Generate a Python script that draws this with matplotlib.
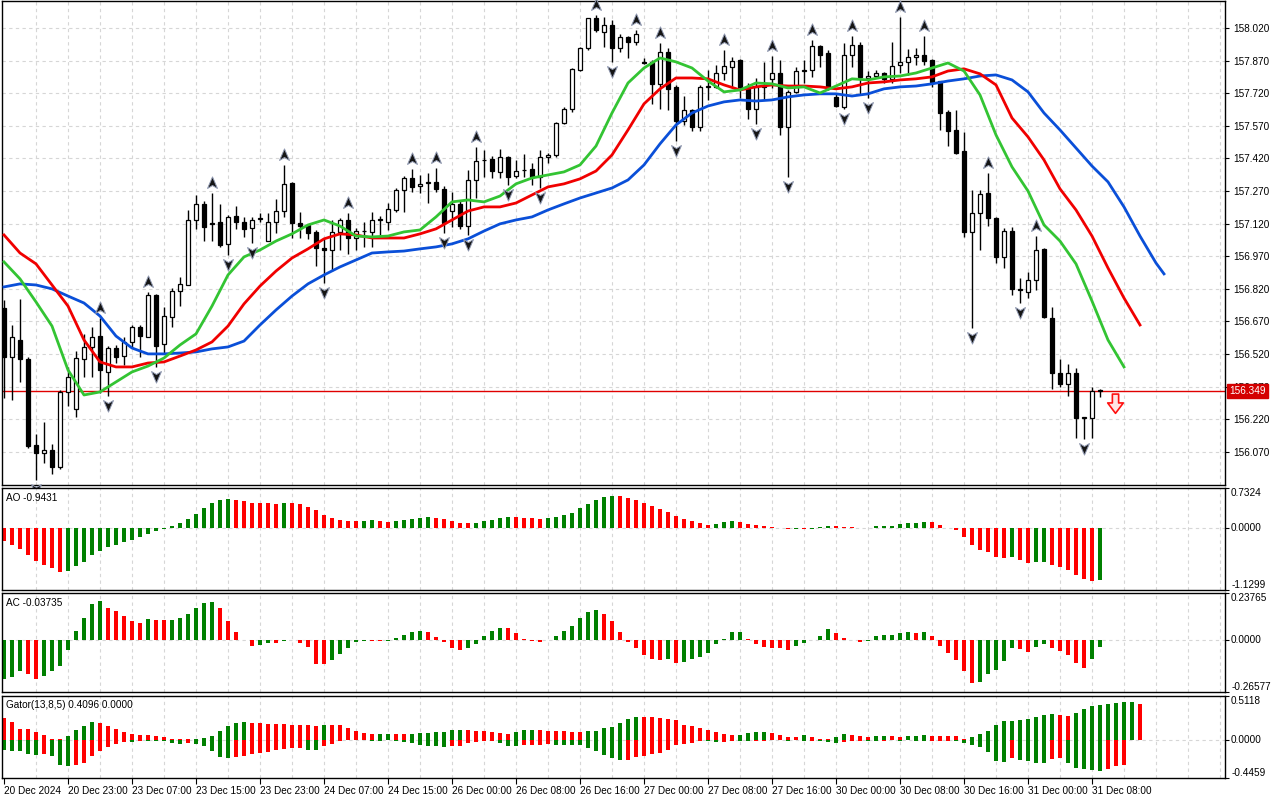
import matplotlib
matplotlib.use("Agg")
import matplotlib.pyplot as plt
import matplotlib.transforms as mtransforms
from matplotlib.path import Path
import numpy as np

# ---- H1 candles, 20 Dec 2024 15:00 .. 31 Dec 2024 ----
opens = [156.732, 156.507, 156.585, 156.498, 156.102, 156.065, 156.079, 156.001, 156.346, 156.268,
         156.498, 156.553, 156.603, 156.438, 156.548, 156.511, 156.576, 156.645, 156.599, 156.792,
         156.566, 156.691, 156.810, 156.838, 157.137, 157.211, 157.123, 157.128, 157.027, 157.155,
         157.128, 157.100, 157.141, 157.040, 157.128, 157.178, 157.307, 157.123, 157.114, 157.082,
         157.008, 156.999, 157.082, 157.137, 157.054, 157.086, 157.082, 157.137, 157.128, 157.183,
         157.275, 157.330, 157.293, 157.307, 157.312, 157.280, 157.178, 157.211, 157.109, 157.321,
         157.413, 157.418, 157.358, 157.427, 157.339, 157.367, 157.372, 157.335, 157.427, 157.436,
         157.583, 157.648, 157.827, 157.928, 158.066, 158.002, 158.034, 157.928, 157.979, 157.956,
         157.864, 157.864, 157.763, 157.910, 157.749, 157.593, 157.643, 157.565, 157.749, 157.749,
         157.813, 157.841, 157.873, 157.749, 157.648, 157.749, 157.786, 157.813, 157.565, 157.726,
         157.822, 157.827, 157.937, 157.905, 157.703, 157.657, 157.896, 157.942, 157.790, 157.799,
         157.813, 157.786, 157.850, 157.864, 157.887, 157.896, 157.873, 157.776, 157.634, 157.551,
         157.454, 157.082, 157.169, 157.261, 157.146, 156.967, 157.086, 156.820, 156.806, 156.860,
         157.004, 156.686, 156.433, 156.383, 156.433, 156.226, 156.226, 156.355]
highs = [156.769, 156.654, 156.774, 156.507, 156.153, 156.208, 156.107, 156.355, 156.461, 156.534,
         156.613, 156.645, 156.686, 156.557, 156.562, 156.599, 156.654, 156.654, 156.806, 156.797,
         156.737, 156.824, 156.875, 157.183, 157.252, 157.224, 157.261, 157.211, 157.160, 157.201,
         157.151, 157.151, 157.169, 157.169, 157.234, 157.390, 157.312, 157.174, 157.119, 157.091,
         157.050, 157.137, 157.146, 157.169, 157.100, 157.128, 157.174, 157.155, 157.215, 157.284,
         157.339, 157.372, 157.344, 157.353, 157.376, 157.293, 157.266, 157.229, 157.367, 157.473,
         157.459, 157.431, 157.464, 157.431, 157.413, 157.441, 157.399, 157.459, 157.445, 157.588,
         157.657, 157.836, 157.933, 158.066, 158.080, 158.071, 158.057, 157.993, 157.983, 158.011,
         157.882, 157.873, 157.951, 157.928, 157.758, 157.707, 157.648, 157.758, 157.827, 157.850,
         157.919, 157.887, 157.878, 157.767, 157.790, 157.864, 157.891, 157.873, 157.735, 157.841,
         157.873, 157.965, 157.942, 157.919, 157.721, 157.951, 157.983, 157.956, 157.822, 157.827,
         157.818, 157.956, 158.071, 157.924, 157.928, 157.983, 157.878, 157.776, 157.643, 157.643,
         157.542, 157.275, 157.275, 157.353, 157.151, 157.100, 157.105, 156.870, 156.897, 157.063,
         157.008, 156.737, 156.497, 156.475, 156.456, 156.231, 156.369, 156.360]
lows = [156.318, 156.309, 156.392, 156.088, 155.941, 156.019, 155.969, 155.992, 156.281, 156.231,
        156.415, 156.415, 156.341, 156.327, 156.479, 156.470, 156.548, 156.507, 156.599, 156.461,
        156.525, 156.645, 156.741, 156.838, 157.096, 157.040, 157.040, 157.013, 156.976, 157.096,
        157.059, 157.030, 157.128, 157.040, 157.077, 157.151, 157.054, 157.054, 157.050, 156.925,
        156.847, 156.902, 156.999, 156.981, 156.999, 157.013, 157.013, 157.068, 157.091, 157.174,
        157.174, 157.266, 157.261, 157.215, 157.266, 157.077, 157.105, 157.096, 157.068, 157.238,
        157.335, 157.330, 157.330, 157.298, 157.330, 157.335, 157.298, 157.285, 157.399, 157.427,
        157.579, 157.634, 157.822, 157.919, 158.002, 157.933, 157.864, 157.910, 157.882, 157.942,
        157.855, 157.671, 157.648, 157.643, 157.500, 157.574, 157.546, 157.546, 157.689, 157.745,
        157.781, 157.745, 157.698, 157.600, 157.579, 157.689, 157.745, 157.528, 157.335, 157.722,
        157.767, 157.795, 157.841, 157.735, 157.657, 157.648, 157.841, 157.712, 157.698, 157.790,
        157.767, 157.767, 157.813, 157.804, 157.850, 157.850, 157.749, 157.551, 157.477, 157.441,
        157.059, 156.640, 156.999, 157.109, 156.939, 156.916, 156.792, 156.755, 156.778, 156.815,
        156.686, 156.360, 156.369, 156.327, 156.134, 156.130, 156.134, 156.323]
closes = [156.507, 156.599, 156.498, 156.097, 156.065, 156.079, 156.001, 156.346, 156.415, 156.502,
          156.553, 156.599, 156.447, 156.548, 156.507, 156.576, 156.645, 156.603, 156.792, 156.557,
          156.695, 156.810, 156.843, 157.137, 157.211, 157.105, 157.120, 157.022, 157.151, 157.128,
          157.096, 157.137, 157.145, 157.128, 157.178, 157.303, 157.123, 157.109, 157.077, 157.008,
          156.999, 157.082, 157.137, 157.054, 157.086, 157.086, 157.137, 157.142, 157.188, 157.275,
          157.330, 157.289, 157.303, 157.312, 157.280, 157.123, 157.211, 157.109, 157.321, 157.408,
          157.413, 157.362, 157.427, 157.335, 157.362, 157.367, 157.335, 157.427, 157.436, 157.583,
          157.648, 157.832, 157.928, 158.066, 158.011, 158.034, 157.928, 157.979, 157.956, 157.993,
          157.860, 157.763, 157.910, 157.740, 157.593, 157.643, 157.565, 157.749, 157.754, 157.813,
          157.845, 157.868, 157.749, 157.648, 157.749, 157.754, 157.813, 157.565, 157.726, 157.822,
          157.827, 157.937, 157.896, 157.744, 157.661, 157.896, 157.942, 157.795, 157.799, 157.813,
          157.786, 157.845, 157.864, 157.887, 157.896, 157.868, 157.772, 157.629, 157.546, 157.445,
          157.082, 157.169, 157.257, 157.146, 156.967, 157.086, 156.820, 156.815, 156.860, 156.999,
          156.691, 156.433, 156.383, 156.433, 156.226, 156.230, 156.350, 156.349]

# alligator lines (every 2nd bar; shifted lines run past the last candle)
jaw_idx = list(range(0, 145, 2)) + [145]
jaw = [156.829, 156.843, 156.838, 156.820, 156.787, 156.755, 156.695, 156.603, 156.548, 156.521,
       156.521, 156.525, 156.530, 156.544, 156.553, 156.580, 156.654, 156.723, 156.787, 156.843,
       156.884, 156.921, 156.953, 156.985, 156.990, 156.994, 157.004, 157.013, 157.027, 157.050,
       157.086, 157.119, 157.137, 157.151, 157.183, 157.211, 157.238, 157.261, 157.284, 157.321,
       157.390, 157.487, 157.574, 157.629, 157.661, 157.680, 157.689, 157.684, 157.689, 157.703,
       157.712, 157.717, 157.717, 157.707, 157.717, 157.740, 157.749, 157.753, 157.763, 157.776,
       157.786, 157.799, 157.804, 157.781, 157.726, 157.629, 157.551, 157.468, 157.385, 157.312,
       157.197, 157.063, 156.939, 156.889]
teeth_idx = list(range(0, 143, 2))
teeth = [157.068, 156.985, 156.935, 156.838, 156.741, 156.585, 156.484, 156.461, 156.461, 156.479,
         156.484, 156.511, 156.539, 156.576, 156.649, 156.751, 156.833, 156.902, 156.962, 157.004,
         157.050, 157.073, 157.068, 157.054, 157.054, 157.054, 157.073, 157.096, 157.137, 157.178,
         157.197, 157.197, 157.215, 157.252, 157.289, 157.303, 157.326, 157.362, 157.436, 157.551,
         157.671, 157.740, 157.790, 157.790, 157.786, 157.758, 157.735, 157.749, 157.758, 157.753,
         157.753, 157.749, 157.740, 157.749, 157.767, 157.772, 157.781, 157.786, 157.795, 157.822,
         157.832, 157.809, 157.758, 157.606, 157.519, 157.413, 157.280, 157.183, 157.063, 156.916,
         156.778, 156.654]
lips_idx = list(range(0, 141, 2))
lips = [156.944, 156.866, 156.760, 156.649, 156.447, 156.332, 156.346, 156.392, 156.438, 156.465,
        156.502, 156.562, 156.613, 156.741, 156.884, 156.967, 156.999, 157.040, 157.073, 157.114,
        157.137, 157.109, 157.063, 157.059, 157.063, 157.082, 157.091, 157.151, 157.220, 157.229,
        157.220, 157.247, 157.303, 157.330, 157.344, 157.358, 157.390, 157.477, 157.629, 157.767,
        157.836, 157.882, 157.864, 157.836, 157.776, 157.726, 157.735, 157.767, 157.763, 157.744,
        157.749, 157.721, 157.753, 157.786, 157.781, 157.795, 157.799, 157.813, 157.836, 157.859,
        157.822, 157.712, 157.528, 157.381, 157.270, 157.114, 157.040, 156.935, 156.764, 156.585,
        156.461]

fractal_up = [12, 18, 26, 35, 43, 51, 54, 59, 74, 79, 82, 90, 96, 101, 106, 112, 115, 123, 129]
fractal_down = [4, 13, 19, 28, 31, 40, 55, 58, 63, 67, 76, 84, 94, 98, 105, 108, 121, 127, 135]

ao = [-0.229, -0.313, -0.374, -0.482, -0.603, -0.675, -0.735, -0.802, -0.784, -0.693,
      -0.621, -0.500, -0.410, -0.350, -0.301, -0.247, -0.211, -0.163, -0.102, -0.060,
      -0.018, 0.030, 0.096, 0.169, 0.265, 0.374, 0.458, 0.512, 0.524, 0.506,
      0.488, 0.458, 0.456, 0.454, 0.440, 0.458, 0.452, 0.435, 0.386, 0.332,
      0.241, 0.181, 0.157, 0.139, 0.121, 0.139, 0.142, 0.121, 0.118, 0.139,
      0.151, 0.169, 0.187, 0.205, 0.187, 0.169, 0.139, 0.102, 0.090, 0.102,
      0.139, 0.157, 0.187, 0.199, 0.196, 0.187, 0.184, 0.169, 0.187, 0.205,
      0.241, 0.277, 0.368, 0.440, 0.506, 0.561, 0.585, 0.579, 0.548, 0.506,
      0.458, 0.404, 0.350, 0.295, 0.223, 0.163, 0.133, 0.096, 0.060, 0.078,
      0.108, 0.133, 0.108, 0.072, 0.054, 0.036, 0.012, -0.006, -0.024, -0.018,
      -0.021, -0.012, 0.018, 0.036, 0.033, 0.018, 0.016, 0.006, 0.007, 0.036,
      0.038, 0.040, 0.072, 0.096, 0.098, 0.115, 0.112, 0.054, -0.003, -0.042,
      -0.169, -0.313, -0.404, -0.440, -0.536, -0.548, -0.530, -0.591, -0.639, -0.621,
      -0.615, -0.681, -0.717, -0.765, -0.862, -0.935, -0.960, -0.9431]
ac = [-0.201, -0.188, -0.159, -0.173, -0.198, -0.185, -0.159, -0.134, -0.054, 0.042,
      0.112, 0.181, 0.196, 0.163, 0.146, 0.122, 0.097, 0.087, 0.107, 0.101,
      0.100, 0.102, 0.112, 0.129, 0.163, 0.188, 0.193, 0.163, 0.097, 0.039,
      -0.003, -0.034, -0.027, -0.017, -0.018, -0.004, -0.001, -0.017, -0.037, -0.122,
      -0.123, -0.101, -0.072, -0.042, -0.013, -0.005, -0.007, -0.008, -0.004, 0.008,
      0.025, 0.037, 0.042, 0.037, 0.013, -0.012, -0.042, -0.054, -0.042, -0.022,
      0.020, 0.045, 0.062, 0.061, 0.034, 0.005, -0.005, -0.013, -0.003, 0.017,
      0.042, 0.072, 0.112, 0.143, 0.151, 0.133, 0.096, 0.040, -0.012, -0.042,
      -0.077, -0.097, -0.102, -0.096, -0.117, -0.112, -0.096, -0.087, -0.067, -0.022,
      0.005, 0.037, 0.038, 0.003, -0.022, -0.039, -0.042, -0.043, -0.052, -0.034,
      -0.018, -0.002, 0.020, 0.057, 0.032, 0.010, -0.002, -0.010, -0.005, 0.017,
      0.022, 0.023, 0.034, 0.037, 0.034, 0.037, 0.017, -0.032, -0.067, -0.102,
      -0.159, -0.218, -0.213, -0.173, -0.153, -0.107, -0.042, -0.047, -0.062, -0.037,
      -0.022, -0.042, -0.057, -0.077, -0.117, -0.143, -0.097, -0.03735]
gator_up = [0.258, 0.212, 0.131, 0.129, 0.096, 0.058, 0.012, 0.010, 0.050, 0.115,
            0.165, 0.208, 0.200, 0.165, 0.127, 0.096, 0.073, 0.062, 0.060, 0.046,
            0.038, 0.012, 0.010, 0.008, 0.012, 0.027, 0.046, 0.108, 0.165, 0.192,
            0.212, 0.200, 0.192, 0.185, 0.181, 0.179, 0.173, 0.171, 0.169, 0.167,
            0.177, 0.175, 0.169, 0.135, 0.104, 0.077, 0.069, 0.071, 0.073, 0.069,
            0.065, 0.069, 0.077, 0.085, 0.088, 0.092, 0.115, 0.119, 0.115, 0.108,
            0.100, 0.092, 0.085, 0.069, 0.088, 0.115, 0.119, 0.115, 0.108, 0.104,
            0.100, 0.096, 0.094, 0.098, 0.108, 0.135, 0.154, 0.200, 0.239, 0.269,
            0.268, 0.266, 0.258, 0.239, 0.231, 0.177, 0.158, 0.142, 0.115, 0.088,
            0.065, 0.054, 0.056, 0.077, 0.088, 0.090, 0.085, 0.058, 0.038, 0.037,
            0.054, 0.038, 0.012, 0.005, 0.038, 0.069, 0.062, 0.050, 0.038, 0.046,
            0.050, 0.042, 0.038, 0.040, 0.046, 0.054, 0.050, 0.048, 0.046, 0.044,
            0.012, 0.031, 0.065, 0.108, 0.177, 0.223, 0.225, 0.231, 0.242, 0.269,
            0.292, 0.300, 0.285, 0.277, 0.315, 0.365, 0.396, 0.4096, 0.419, 0.431,
            0.442, 0.444, 0.419]
gator_dn = [-0.120, -0.125, -0.127, -0.162, -0.181, -0.165, -0.192, -0.289, -0.308, -0.296,
            -0.269, -0.192, -0.135, -0.088, -0.050, -0.020, -0.027, -0.008, -0.012, -0.015,
            -0.019, -0.038, -0.046, -0.040, -0.046, -0.077, -0.135, -0.204, -0.212, -0.204,
            -0.185, -0.165, -0.154, -0.142, -0.115, -0.110, -0.096, -0.094, -0.115, -0.119,
            -0.069, -0.054, -0.019, -0.004, -0.006, -0.004, -0.008, -0.008, -0.004, -0.019,
            -0.023, -0.038, -0.058, -0.069, -0.077, -0.085, -0.077, -0.069, -0.038, -0.031,
            -0.019, -0.008, -0.038, -0.069, -0.071, -0.065, -0.058, -0.056, -0.054, -0.058,
            -0.060, -0.062, -0.065, -0.096, -0.135, -0.181, -0.212, -0.239, -0.237, -0.200,
            -0.185, -0.165, -0.154, -0.123, -0.065, -0.050, -0.038, -0.012, -0.019, -0.027,
            -0.023, -0.012, -0.015, -0.019, -0.010, -0.008, -0.004, -0.003, -0.008, -0.004,
            -0.019, -0.008, -0.015, -0.027, -0.035, -0.027, -0.019, -0.008, -0.012, -0.015,
            -0.008, -0.004, -0.008, -0.004, -0.012, -0.019, -0.015, -0.012, -0.008, -0.012,
            -0.038, -0.058, -0.085, -0.146, -0.250, -0.262, -0.212, -0.231, -0.250, -0.269,
            -0.273, -0.223, -0.212, -0.269, -0.327, -0.335, -0.350, -0.365, -0.339, -0.300,
            -0.292]

date_idx = list(range(0, 137, 8))
date_labels = ["20 Dec 2024", "20 Dec 23:00", "23 Dec 07:00", "23 Dec 15:00", "23 Dec 23:00",
               "24 Dec 07:00", "24 Dec 15:00", "26 Dec 00:00", "26 Dec 08:00", "26 Dec 16:00",
               "27 Dec 00:00", "27 Dec 08:00", "27 Dec 16:00", "30 Dec 00:00", "30 Dec 08:00",
               "30 Dec 16:00", "31 Dec 00:00", "31 Dec 08:00"]
price_ticks = [156.070, 156.220, 156.370, 156.520, 156.670, 156.820, 156.970, 157.120,
               157.270, 157.420, 157.570, 157.720, 157.870, 158.020]
bid = 156.349

GREEN = "#008000"
RED = "#ff0000"
GRID = "#d6d6d6"
FS = 7.2
plt.rcParams["font.family"] = ["Liberation Sans", "DejaVu Sans"]


def bar_colors(vals, first, use_abs=False):
    v = np.abs(vals) if use_abs else np.asarray(vals)
    cols = [first]
    for a, b in zip(v[:-1], v[1:]):
        if b > a:
            cols.append(GREEN)
        elif b < a:
            cols.append(RED)
        else:
            cols.append(cols[-1])
    return cols


fig = plt.figure(figsize=(12.8, 8), dpi=100)
left, width = 2 / 1280, 1223 / 1280
ax = fig.add_axes([left, 1 - 485 / 800, width, 484 / 800])
ax_ao = fig.add_axes([left, 1 - 590 / 800, width, 102 / 800])
ax_ac = fig.add_axes([left, 1 - 692 / 800, width, 99 / 800])
ax_g = fig.add_axes([left, 1 - 778 / 800, width, 82 / 800])
axes = [ax, ax_ao, ax_ac, ax_g]

n = len(opens)
xs = np.arange(n)
o, h, l, c = map(np.asarray, (opens, highs, lows, closes))
xmax = -0.25 + 1223 / 8

for a in axes:
    a.set_xlim(-0.25, xmax)
    for k in range(4, int(xmax) + 1, 4):
        a.axvline(k, color=GRID, lw=0.8, ls=(0, (3, 3)), zorder=0)
    for s in a.spines.values():
        s.set_color("black")
        s.set_linewidth(1)
    a.tick_params(axis="x", bottom=False, labelbottom=False)

# --- price panel ---
ax.set_ylim(155.918, 158.144)
for p in price_ticks:
    ax.axhline(p, color=GRID, lw=0.8, ls=(0, (3, 3)), zorder=0)
ax.yaxis.tick_right()
ax.set_yticks(price_ticks)
ax.set_yticklabels([f"{p:.3f}" for p in price_ticks])
ax.tick_params(axis="y", length=3, labelsize=FS, pad=3)

ax.axhline(bid, color="#e00000", lw=1, zorder=1.5)
ax.vlines(xs, l, h, color="black", lw=1, zorder=2)
up = c >= o
ax.bar(xs, np.maximum(np.abs(c - o), 0.0006), bottom=np.minimum(o, c), width=0.62,
       color=np.where(up, "white", "black"), edgecolor="black", linewidth=0.9, zorder=3)

ax.plot(jaw_idx, jaw, color="#0a4fd8", lw=2, zorder=4)
ax.plot(teeth_idx, teeth, color="#f00000", lw=2, zorder=4.1)
ax.plot(lips_idx, lips, color="#33c433", lw=2, zorder=4.2)

up_mark = Path([(0, 1), (0.75, -0.75), (0, -0.3), (-0.75, -0.75), (0, 1)],
               [Path.MOVETO, Path.LINETO, Path.LINETO, Path.LINETO, Path.CLOSEPOLY])
dn_mark = Path([(0, -1), (0.75, 0.75), (0, 0.3), (-0.75, 0.75), (0, -1)],
               [Path.MOVETO, Path.LINETO, Path.LINETO, Path.LINETO, Path.CLOSEPOLY])
above = mtransforms.offset_copy(ax.transData, fig=fig, y=10, units="dots")
below = mtransforms.offset_copy(ax.transData, fig=fig, y=-9, units="dots")
ax.plot(fractal_up, h[fractal_up], ls="none", marker=up_mark, ms=9.5, mfc="#151515",
        mec="#8f98b0", mew=0.7, transform=above, zorder=5, clip_on=False)
ax.plot(fractal_down, l[fractal_down], ls="none", marker=dn_mark, ms=9.5, mfc="#151515",
        mec="#8f98b0", mew=0.7, transform=below, zorder=5, clip_on=False)

# sell signal arrow next to the last bar
sig_mark = Path([(-0.3, 1), (0.3, 1), (0.3, 0.15), (0.75, 0.15), (0, -0.85),
                 (-0.75, 0.15), (-0.3, 0.15), (-0.3, 1)],
                [Path.MOVETO] + [Path.LINETO] * 6 + [Path.CLOSEPOLY])
sig_tr = mtransforms.offset_copy(ax.transData, fig=fig, y=-13, units="dots")
ax.plot([xs[-1] + 1.9], [c[-1]], ls="none", marker=sig_mark, ms=15, mfc="#ffe4e4",
        mec="#ff1010", mew=1.2, transform=sig_tr, zorder=5)

ax.annotate(f"{bid:.3f}", xy=(1.0, bid), xycoords=("axes fraction", "data"),
            xytext=(3, 0), textcoords="offset points", va="center", ha="left",
            fontsize=FS, color="white", zorder=10, annotation_clip=False,
            bbox=dict(boxstyle="square,pad=0.22", fc="#d40000", ec="#d40000"))

# --- oscillator panels ---
def panel(a, vals, cols, lo, hi, labels, title):
    a.bar(np.arange(len(vals)), vals, width=0.62, color=cols, zorder=2)
    a.set_ylim(lo, hi)
    a.axhline(0, color=GRID, lw=0.8, ls=(0, (3, 3)), zorder=1)
    a.yaxis.tick_right()
    a.set_yticks([lo, 0, hi])
    a.tick_params(axis="y", length=3, labelright=False)
    tr = mtransforms.blended_transform_factory(a.transAxes, a.transData)
    for v, txt, va in zip([lo, 0, hi], labels, ["bottom", "center", "top"]):
        a.text(1.005, v, txt, transform=tr, fontsize=FS, va=va, ha="left")
    a.text(0.003, 0.95, title, transform=a.transAxes, fontsize=FS, va="top", ha="left")


panel(ax_ao, ao, bar_colors(ao, RED), -1.1299, 0.7324,
      ["-1.1299", "0.0000", "0.7324"], "AO -0.9431")
panel(ax_ac, ac, bar_colors(ac, GREEN), -0.26577, 0.23765,
      ["-0.26577", "0.0000", "0.23765"], "AC -0.03735")
panel(ax_g, gator_up, bar_colors(gator_up, RED), -0.4459, 0.5118,
      ["-0.4459", "0.0000", "0.5118"], "Gator(13,8,5) 0.4096 0.0000")
ax_g.bar(np.arange(len(gator_dn)), gator_dn, width=0.62,
         color=bar_colors(gator_dn, GREEN, use_abs=True), zorder=2)

ax_g.tick_params(axis="x", bottom=True, labelbottom=True, length=4, pad=2, labelsize=FS)
ax_g.set_xticks(date_idx)
ax_g.set_xticklabels(date_labels, ha="left")

fig.savefig("out.png", dpi=100, facecolor="white")
